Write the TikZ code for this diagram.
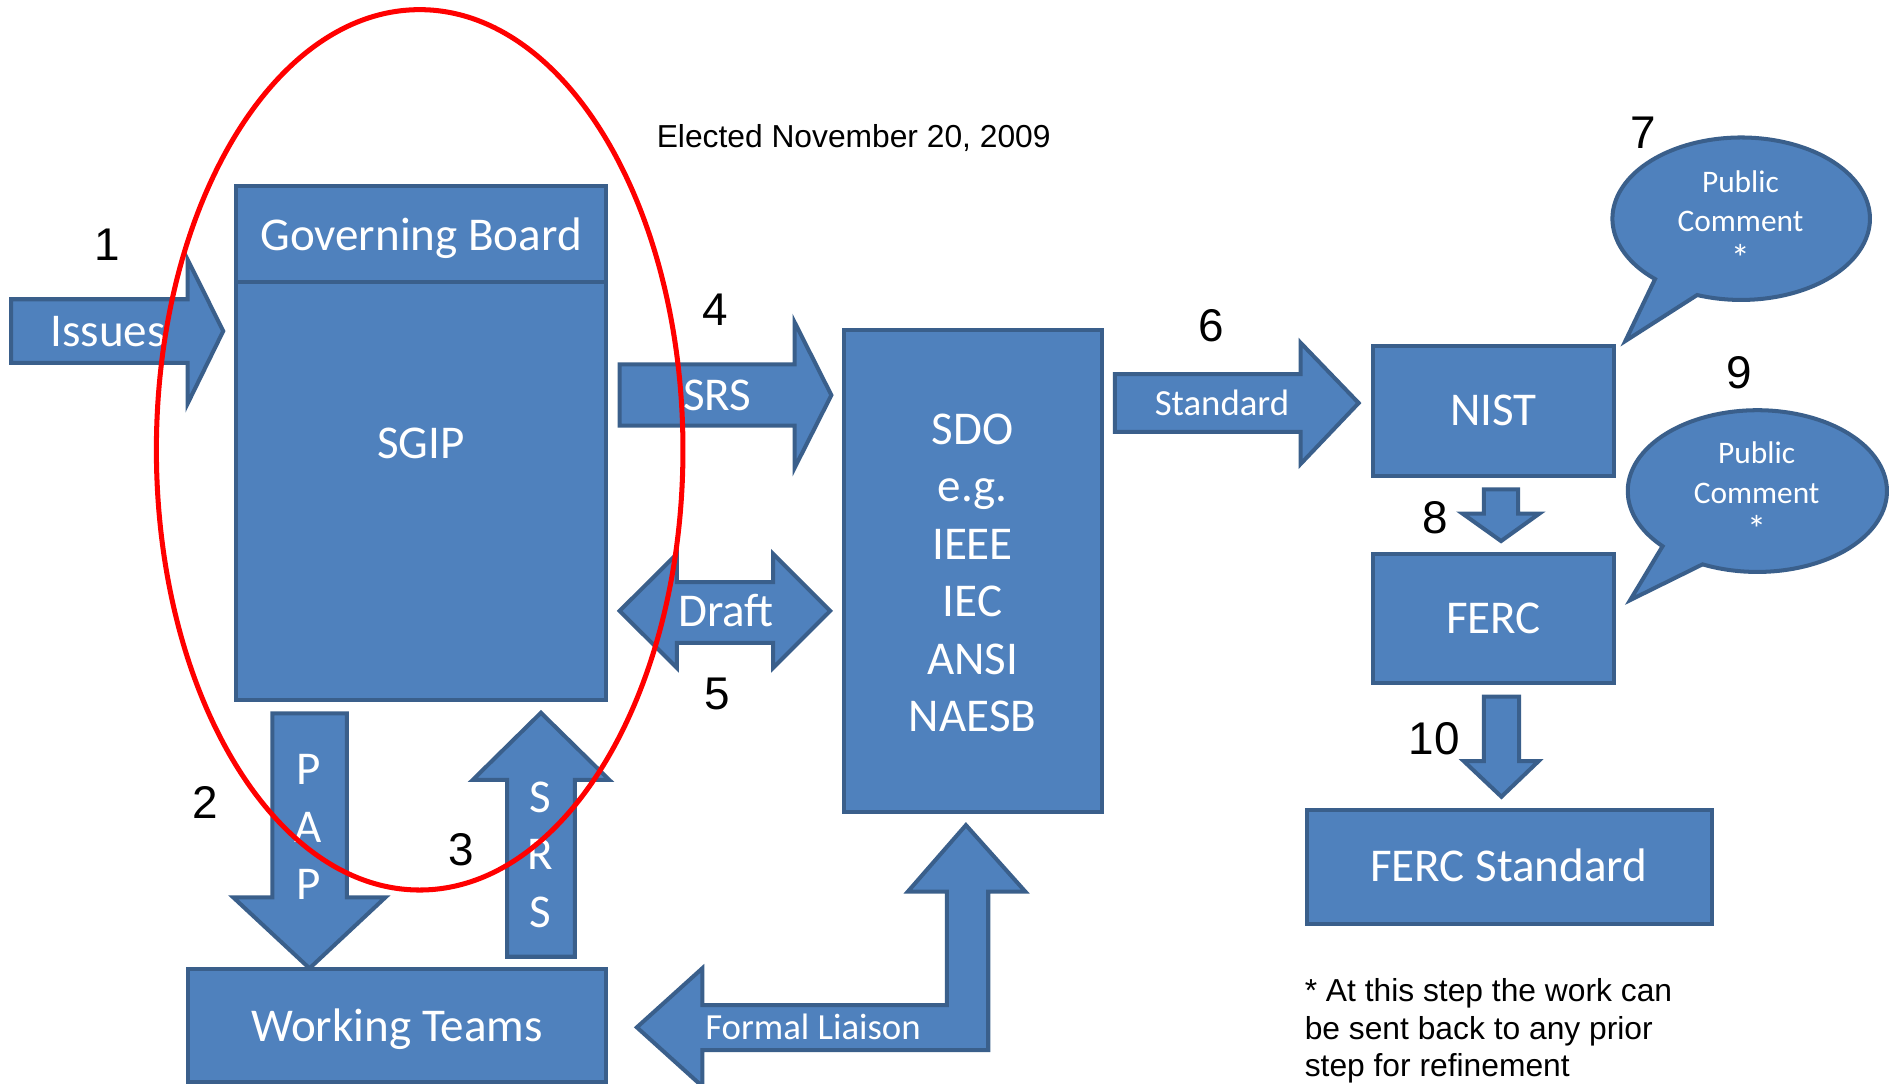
\documentclass[tikz,border=0pt]{standalone}
\usepackage{fontspec}
\setmainfont{Carlito}
\newfontfamily\arialfont{Liberation Sans}
\usepackage{tikz}
\definecolor{boxfill}{HTML}{4F81BD}
\definecolor{boxline}{HTML}{3A5F8B}

\begin{document}
\begin{tikzpicture}[x=0.6pt, y=-0.6pt,
  box/.style={fill=boxfill, draw=boxline, line width=2pt},
  big/.style={text=white, inner sep=0pt, font=\fontsize{23.4}{28.6}\selectfont},
  small/.style={text=white, inner sep=0pt, font=\fontsize{18.3}{22}\selectfont},
  bubtxt/.style={text=white, inner sep=0pt, align=center, font=\fontsize{15.6}{19.6}\selectfont},
  num/.style={inner sep=0pt, font=\arialfont\fontsize{22.8}{27}\selectfont},
  note/.style={inner sep=0pt, font=\arialfont\fontsize{15.8}{18.7}\selectfont}]

  \useasboundingbox (0,0) rectangle (1568,898);

  % SGIP (left)
  \draw[box] (195.4,234.1) rectangle (502.5,579.8);
  \draw[box] (195.4,154.2) rectangle (502.5,234.1);
  \node[big, anchor=base] (gb) at (349,208) {Governing Board};
  \node[big, anchor=base] (sgip) at (349,380) {SGIP};

  % Issues in
  \draw[box] (9.3,248) -- (155.4,248) -- (155.4,214.9) -- (185,274.4) -- (155.4,334.7) -- (155.4,300.8) -- (9.3,300.8) -- cycle;
  \node[big, anchor=base] (issues) at (89.7,287.4) {Issues};

  % SRS and Draft
  \draw[box] (513.5,302) -- (658.5,302) -- (658.5,267) -- (689,327.5) -- (658.5,387.8) -- (658.5,352.8) -- (513.5,352.8) -- cycle;
  \node[big, anchor=base] (srs) at (594.6,340.4) {SRS};
  \draw[box] (513.5,506.3) -- (561,459) -- (561,482.5) -- (640.7,482.5) -- (640.7,459) -- (688,506.3) -- (640.7,553.5) -- (640.7,532.8) -- (561,532.8) -- (561,553.5) -- cycle;
  \node[big, anchor=base] (draft) at (601.6,519.5) {Draft};

  % SDO
  \draw[box] (699.4,273.8) rectangle (913,672.8);
  \node[big, anchor=north, align=center] (sdo) at (806,342.5) {SDO\\e.g.\\IEEE\\IEC\\ANSI\\NAESB};

  % Standard to NIST
  \draw[box] (924,310) -- (1077.8,310) -- (1077.8,284) -- (1126,334) -- (1077.8,384.6) -- (1077.8,358) -- (924,358) -- cycle;
  \node[small, anchor=base] (std) at (1012.7,344) {Standard};

  % NIST, FERC, FERC Standard
  \draw[box] (1137.7,286.5) rectangle (1337.8,394.3);
  \node[big, anchor=base] (nist) at (1237.7,352.8) {NIST};
  \draw[box] (1229.7,405.5) -- (1258.2,405.5) -- (1258.2,425.6) -- (1275.8,425.6) -- (1244,448.4) -- (1212,425.6) -- (1229.7,425.6) -- cycle;
  \draw[box] (1137.7,459.4) rectangle (1337.8,566);
  \node[big, anchor=base] (ferc) at (1237.7,525.4) {FERC};
  \draw[box] (1229.8,577.4) -- (1258.9,577.4) -- (1258.9,630.7) -- (1275.2,630.7) -- (1244.3,660.3) -- (1213,630.7) -- (1229.8,630.7) -- cycle;
  \draw[box] (1083,671) rectangle (1418.5,766);
  \node[big, anchor=base] (fercstd) at (1250.3,730.7) {FERC Standard};

  % Public comment bubbles
  \draw[box] (1406.5,244.5) arc[start angle=110, end angle=-228, x radius=106.7, y radius=67.3] -- (1347,282.6) -- cycle;
  \node[bubtxt, anchor=north] (pc7) at (1442.4,141) {Public\\Comment\\{\fontsize{19}{19.6}\selectfont *}};
  \draw[box] (1411,467.7) arc[start angle=115, end angle=-223, x radius=107.4, y radius=67] -- (1351,497.3) -- cycle;
  \node[bubtxt, anchor=north] (pc9) at (1455.8,366) {Public\\Comment\\{\fontsize{19}{19.6}\selectfont *}};

  % PAP down, SRS up
  \draw[box] (225.7,591.2) -- (287.5,591.2) -- (287.5,743.7) -- (319.4,743.7) -- (256.5,802.5) -- (193.3,743.7) -- (225.7,743.7) -- cycle;
  \node[big, anchor=north, align=center] (pap) at (255.5,625) {P\\A\\P};
  \draw[box] (420.2,792.9) -- (476.4,792.9) -- (476.4,646.4) -- (505,646.4) -- (448.3,590.7) -- (391.7,646.4) -- (420.2,646.4) -- cycle;
  \node[big, anchor=north, align=center] (srsup) at (448,647.5) {S\\R\\S};

  % Working Teams and liaison
  \draw[box] (156.2,803) rectangle (502.6,896.5);
  \node[big, anchor=base] (wt) at (329,863.3) {Working Teams};
  \draw[box] (527.8,851.4) -- (582,802.5) -- (582,832.9) -- (784.7,832.9) -- (784.7,739) -- (752.3,739) -- (800.5,683.8) -- (849.8,739) -- (819,739) -- (819,870.2) -- (582,870.2) -- (582,900.3) -- cycle;
  \node[small, anchor=base] (liaison) at (673.8,861.4) {Formal Liaison};

  % Step numbers
  \node[num] (n1) at (88.8,203) {1};
  \node[num] (n2) at (170.2,665) {2};
  \node[num] (n3) at (382.2,704.5) {3};
  \node[num] (n4) at (592.6,257) {4};
  \node[num] (n5) at (594.2,575) {5};
  \node[num] (n6) at (1003.7,269.8) {6};
  \node[num] (n7) at (1361.5,110.2) {7};
  \node[num] (n8) at (1189.5,428.8) {8};
  \node[num] (n9) at (1441,309.3) {9};
  \node[num] (n10) at (1188.7,611.9) {10};

  % Notes
  \node[note, anchor=base] (elected) at (707.5,122) {Elected November 20, 2009};
  \node[note, anchor=north west, align=left] (foot) at (1081,810.5) {* At this step the work can\\be sent back to any prior\\step for refinement};

  % Red ring round the SGIP
  \draw[red, line width=2.5pt] (347.8,372.8) ellipse [x radius=218.2, y radius=364.8];
\end{tikzpicture}
\end{document}
